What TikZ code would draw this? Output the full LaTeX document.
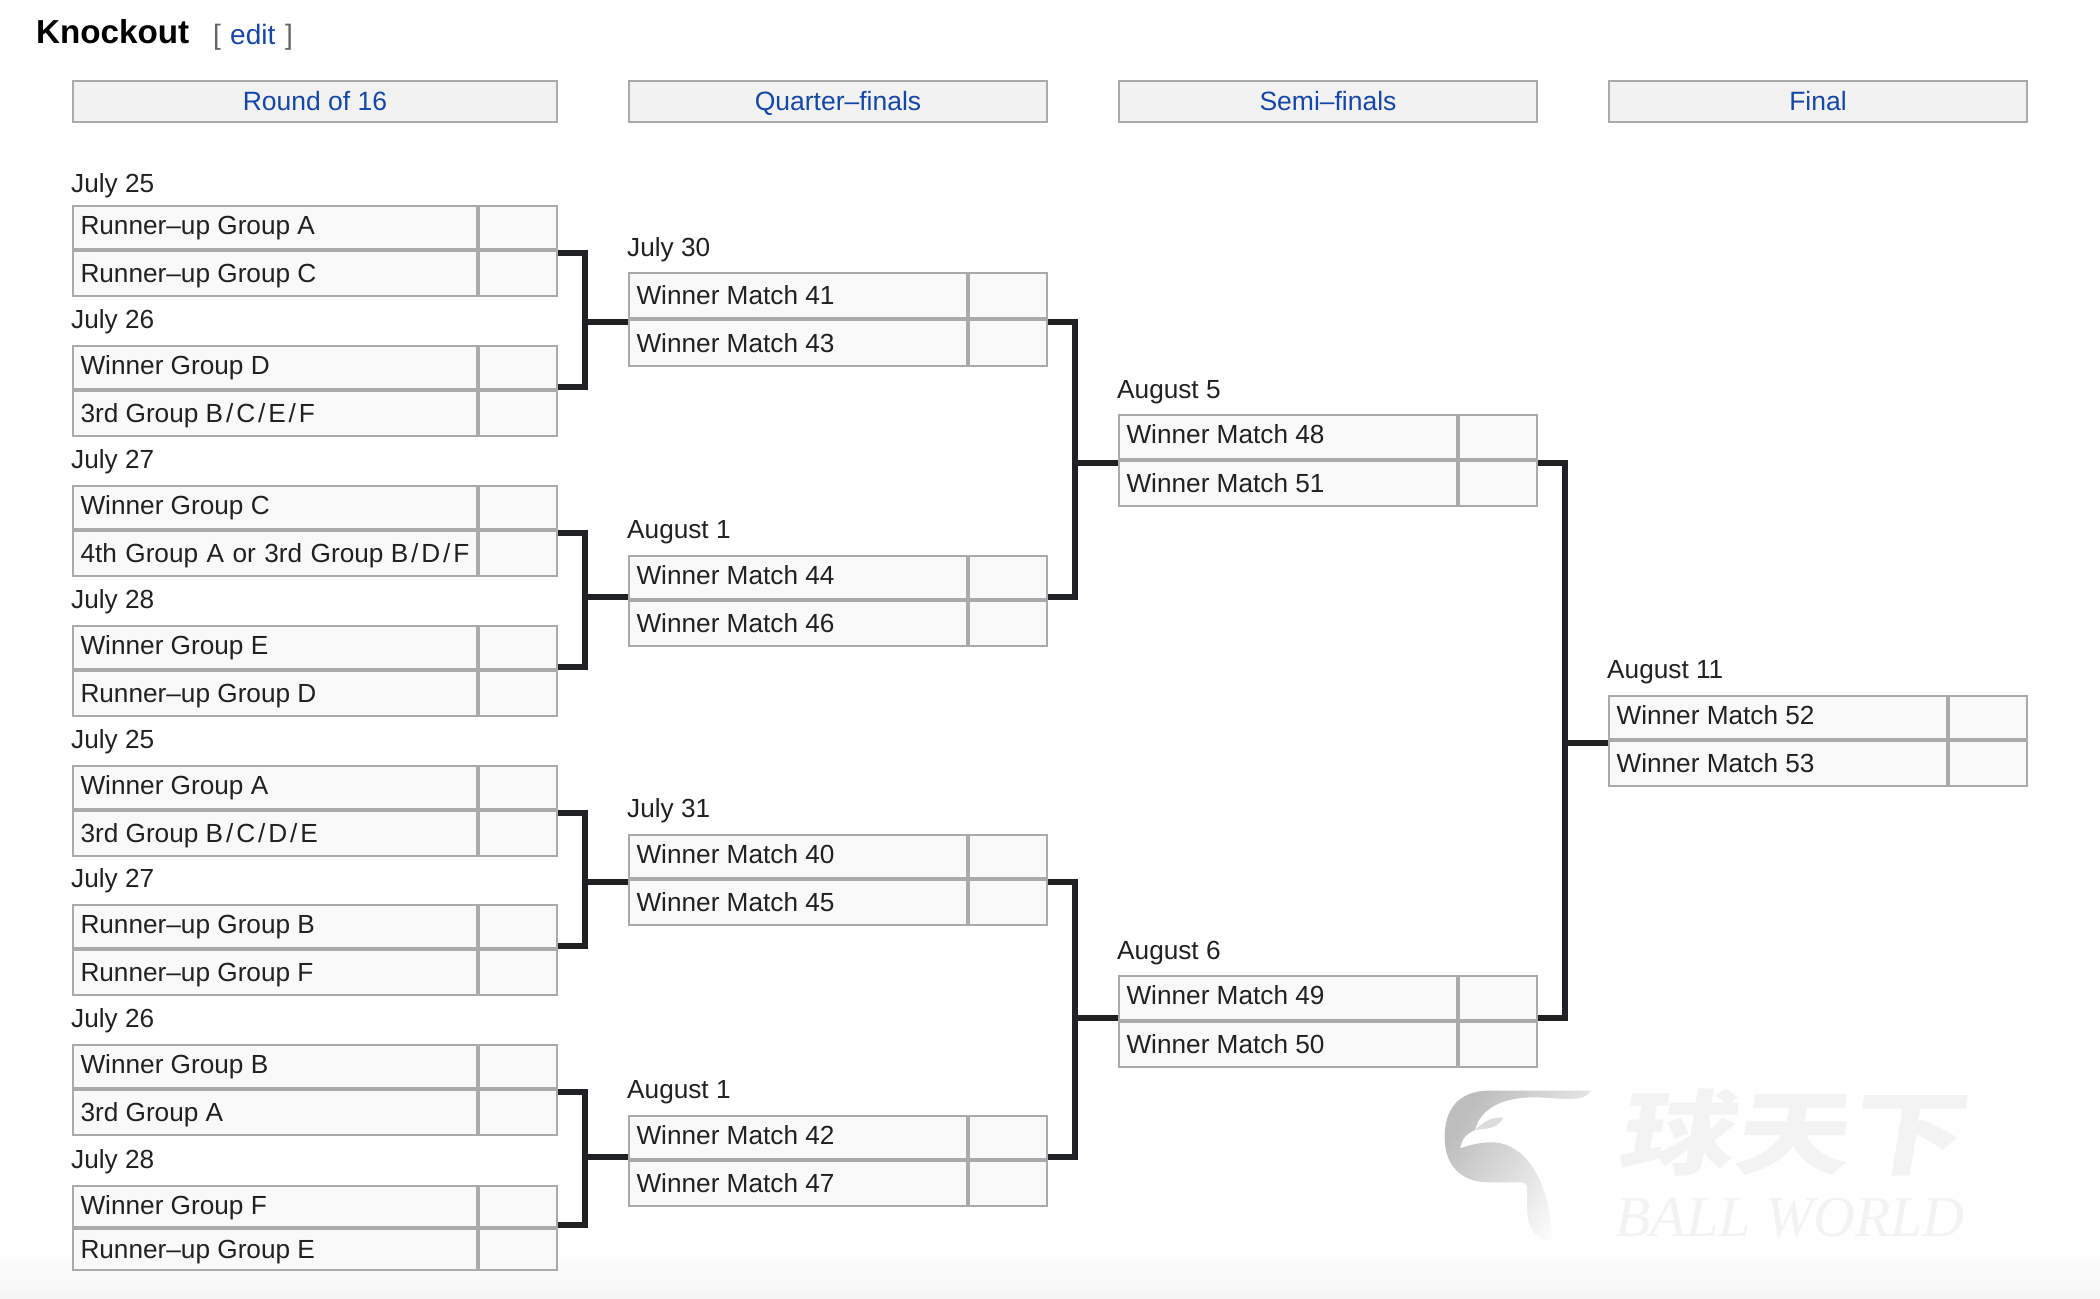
\documentclass[tikz,border=0pt]{standalone}
\usepackage{fontspec}
\setmainfont{Liberation Sans}
\newfontfamily\cjkfont[FakeSlant=0.16,FakeStretch=1.25]{Noto Sans CJK SC}
\newfontfamily\logofont{Liberation Serif}
\definecolor{cellfill}{HTML}{F9F9F9}
\definecolor{hdrfill}{HTML}{F2F2F2}
\definecolor{edge}{HTML}{AAAAAA}
\definecolor{ink}{HTML}{202122}
\definecolor{linkc}{HTML}{1547A8}
\definecolor{wm}{HTML}{F3F3F3}
\tikzset{
  cellbox/.style={draw=edge,fill=cellfill,line width=2pt,rectangle,anchor=north west,outer sep=0pt,inner xsep=7.5pt,inner ysep=0pt,text=ink,font=\fontsize{26.2}{30}\selectfont},
  hdrbox/.style={draw=edge,fill=hdrfill,line width=2pt,rectangle,anchor=north west,outer sep=0pt,inner sep=0pt,text=linkc,font=\fontsize{26.5}{30}\selectfont,minimum height=41pt,text height=19pt,text depth=1pt},
  datelabel/.style={anchor=base west,inner sep=0pt,text=ink,font=\fontsize{26.2}{30}\selectfont},
  conn/.style={draw=ink,line width=6pt,line join=miter,line cap=butt},
}
\def\rowa{45}\def\rowb{47}\def\txta{14}\def\txtb{18}\def\dy{17}
\newcommand\gs{\kern2.9pt/\kern2.9pt}
\newcommand\ws{\kern1.2pt\ }
% args: id, top, connector offset, date, team A, team B
\newcommand\matchbox[6]{%
  \pgfmathsetmacro\ya{#2+1}%
  \pgfmathsetmacro\ym{#2+\rowa}%
  \pgfmathsetmacro\yb{#2+\rowa+\rowb-1}%
  \pgfmathsetmacro\hAa{\ym-1-\ya}%
  \pgfmathsetmacro\hBb{\yb-\ym-1}%
  \pgfmathsetmacro\wT{\xd-1-\xl-1}%
  \pgfmathsetmacro\wS{\xr-1-\xd-1}%
  \pgfmathsetmacro\wTx{\wT-15}%
  \node[datelabel] (#1-d) at (\xl-1,#2-\dy) {#4};
  \node[cellbox,minimum width=\wT pt,minimum height=\hAa pt,text height=\txta pt,text depth=1pt] (#1-a) at (\xl+1,\ya) {\makebox[\wTx pt][l]{#5}};
  \node[cellbox,minimum width=\wS pt,minimum height=\hAa pt] (#1-as) at (\xd+1,\ya) {};
  \node[cellbox,minimum width=\wT pt,minimum height=\hBb pt,text height=\txtb pt,text depth=1pt] (#1-b) at (\xl+1,\ym+1) {\makebox[\wTx pt][l]{#6}};
  \node[cellbox,minimum width=\wS pt,minimum height=\hBb pt] (#1-bs) at (\xd+1,\ym+1) {};
  \coordinate (#1-out) at (\xr,\ym+#3);
  \coordinate (#1-in) at (\xl,\ym+#3);
}
\newcommand\setcol[3]{\def\xl{#1}\def\xd{#2}\def\xr{#3}}
\begin{document}
\begin{tikzpicture}[x=1pt,y=-1pt]
\useasboundingbox (0,0) rectangle (2100,1298);
\fill[white] (0,0) rectangle (2100,1298);
\shade[top color=white,bottom color=white!96!black] (0,1250) rectangle (2100,1298);

% watermark
\begin{scope}[shift={(1400,1040)},xscale=0.4464,yscale=0.3333]
  \shade[left color=black!26,right color=white,shading angle=55]
    (428,152) -- (200,152)
    .. controls (130,152) and (100,210) .. (100,290)
    .. controls (100,375) and (135,427) .. (200,427)
    -- (275,427) -- (285,437) -- (285,510)
    .. controls (285,570) and (310,600) .. (340,605)
    .. controls (340,450) and (290,307) .. (205,307)
    .. controls (175,307) and (150,318) .. (135,325)
    .. controls (138,295) and (150,280) .. (168,270)
    .. controls (180,205) and (230,172) .. (300,172)
    .. controls (330,172) and (355,177) .. (380,177)
    .. controls (405,177) and (420,170) .. (428,152) -- cycle;
  \fill[black!14]
    (168,270) .. controls (195,235) and (210,233) .. (232,233)
    .. controls (215,270) and (190,265) .. (168,270) -- cycle;
\end{scope}
\node[anchor=base west,inner sep=0pt,text=wm,font=\cjkfont\bfseries\fontsize{92}{92}\selectfont] (wmcn) at (1617,1167) {球天下};
\node[anchor=base west,inner sep=0pt,text=wm,font=\logofont\itshape\fontsize{58}{60}\selectfont] (wmen) at (1615,1236) {BALL WORLD};

% title
\node[anchor=base west,inner sep=0pt,text=black,font=\bfseries\fontsize{33.2}{36}\selectfont] (title) at (36,44) {Knockout};
\node[anchor=base west,inner sep=0pt,text=ink!70,font=\fontsize{28}{30}\selectfont] (brl) at (213,45) {[};
\node[anchor=base west,inner sep=0pt,text=linkc,font=\fontsize{28}{30}\selectfont] (edit) at (230,45) {edit};
\node[anchor=base west,inner sep=0pt,text=ink!70,font=\fontsize{28}{30}\selectfont] (brr) at (285,45) {]};

% headers
\node[hdrbox,minimum width=484pt] (h1) at (73,81) {Round of 16};
\node[hdrbox,minimum width=418pt] (h2) at (629,81) {Quarter–finals};
\node[hdrbox,minimum width=418pt] (h3) at (1119,81) {Semi–finals};
\node[hdrbox,minimum width=418pt] (h4) at (1609,81) {Final};

% round of 16
\setcol{72}{478}{558}
\def\dy{12.8}
\matchbox{m1}{205}{3}{July 25}{Runner–up Group A}{Runner–up Group C}
\def\dy{17}
\matchbox{m2}{345}{-3}{July 26}{Winner Group D}{3rd Group B\gs C\gs E\gs F}
\matchbox{m3}{485}{3}{July 27}{Winner Group C}{4th\ws Group\ws A\ws or\ws 3rd\ws Group B\gs D\gs F}
\matchbox{m4}{625}{-3}{July 28}{Winner Group E}{Runner–up Group D}
\matchbox{m5}{765}{3}{July 25}{Winner Group A}{3rd Group B\gs C\gs D\gs E}
\matchbox{m6}{904}{-3}{July 27}{Runner–up Group B}{Runner–up Group F}
\matchbox{m7}{1044}{3}{July 26}{Winner Group B}{3rd Group A}
\def\rowa{43}\def\rowb{43}\def\txta{16}\def\txtb{19}
\matchbox{m8}{1185}{-3}{July 28}{Winner Group F}{Runner–up Group E}

% quarter-finals
\setcol{628}{968}{1048}
\def\rowa{47}\def\rowb{48}\def\txta{18}\def\txtb{20}\def\dy{15.8}
\matchbox{q1}{272}{3}{July 30}{Winner Match 41}{Winner Match 43}
\def\rowa{45}\def\rowb{47}\def\txta{14}\def\txtb{18}\def\dy{17}
\matchbox{q2}{555}{-3}{August 1}{Winner Match 44}{Winner Match 46}
\matchbox{q3}{834}{3}{July 31}{Winner Match 40}{Winner Match 45}
\matchbox{q4}{1115}{-3}{August 1}{Winner Match 42}{Winner Match 47}

% semi-finals
\setcol{1118}{1458}{1538}
\def\rowa{46}\def\rowb{47}\def\dy{16}
\matchbox{s1}{414}{3}{August 5}{Winner Match 48}{Winner Match 51}
\matchbox{s2}{975}{-3}{August 6}{Winner Match 49}{Winner Match 50}

% final
\setcol{1608}{1948}{2028}
\def\rowa{45}\def\rowb{47}\def\dy{16.8}
\matchbox{f1}{695}{3}{August 11}{Winner Match 52}{Winner Match 53}

% connectors
\newcommand\joinpair[3]{%
  \path (#3-in) ++(-43,0) coordinate (#3-j);
  \draw[conn] (#1-out) -| (#3-j) |- (#2-out);
  \draw[conn] (#3-j) -- (#3-in);
}
\joinpair{m1}{m2}{q1}
\joinpair{m3}{m4}{q2}
\joinpair{m5}{m6}{q3}
\joinpair{m7}{m8}{q4}
\joinpair{q1}{q2}{s1}
\joinpair{q3}{q4}{s2}
\joinpair{s1}{s2}{f1}
\end{tikzpicture}
\end{document}
